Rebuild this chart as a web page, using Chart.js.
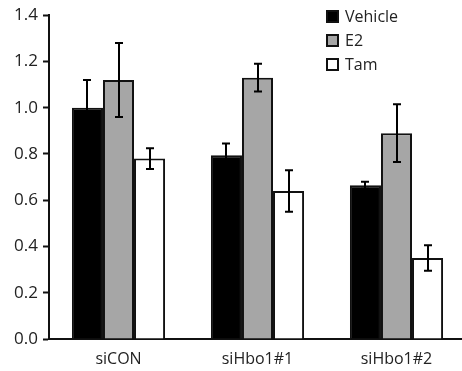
<!DOCTYPE html>
<html>
<head>
<meta charset="utf-8">
<script src="https://cdn.jsdelivr.net/npm/chart.js@4/dist/chart.umd.min.js"></script>
<style>
  html, body { margin: 0; padding: 0; background: #fff; overflow: hidden; }
  #wrap { position: relative; width: 470px; height: 371px; }
  #legend { position: absolute; left: 326px; top: 7px; font-family: "Open Sans", sans-serif; font-size: 16px; color: #222; }
  #legend div { height: 24px; line-height: 18px; white-space: nowrap; }
  #legend span.box { display: inline-block; width: 9px; height: 9px; border: 2px solid #111; vertical-align: -1px; margin-right: 6px; }
</style>
</head>
<body>
<div id="wrap">
  <canvas id="mycanvas" width="470" height="371"></canvas>
  <div id="legend"></div>
</div>
<script>
var categories = ["siCON", "siHbo1#1", "siHbo1#2"];
var seriesNames = ["Vehicle", "E2", "Tam"];
var vehicle = [1.00, 0.795, 0.665];
var e2 = [1.12, 1.13, 0.89];
var tam = [0.78, 0.64, 0.35];
var vehicleErr = [0.12, 0.05, 0.015];
var e2Err = [0.16, 0.06, 0.125];
var tamErr = [0.045, 0.09, 0.055];
var yTicks = [0, 0.2, 0.4, 0.6, 0.8, 1.0, 1.2, 1.4];

var colors = ["#000000", "#a6a6a6", "#ffffff"];
var errs = [vehicleErr, e2Err, tamErr];

var chartdata = {
	labels: categories,
	datasets: [
		{ label: seriesNames[0], data: vehicle, backgroundColor: colors[0], borderColor: '#111', borderWidth: 2 },
		{ label: seriesNames[1], data: e2, backgroundColor: colors[1], borderColor: '#111', borderWidth: 2 },
		{ label: seriesNames[2], data: tam, backgroundColor: colors[2], borderColor: '#111', borderWidth: 2 }
	]
};

// error bars drawn from the y scale
var errorBars = {
	id: 'errorBars',
	afterDatasetsDraw: function(chart) {
		var ctx = chart.ctx;
		var y = chart.scales.y;
		ctx.save();
		ctx.strokeStyle = '#000';
		ctx.lineWidth = 2;
		chart.data.datasets.forEach(function(ds, i) {
			var meta = chart.getDatasetMeta(i);
			meta.data.forEach(function(bar, j) {
				var v = ds.data[j], e = errs[i][j];
				var top = y.getPixelForValue(v + e);
				var bot = y.getPixelForValue(v - e);
				var x = Math.round(bar.x);
				ctx.beginPath();
				ctx.moveTo(x, top); ctx.lineTo(x, bot);
				ctx.moveTo(x - 4, top); ctx.lineTo(x + 4, top);
				ctx.moveTo(x - 4, bot); ctx.lineTo(x + 4, bot);
				ctx.stroke();
			});
		});
		ctx.restore();
	}
};

var ctx = document.getElementById("mycanvas");
var barGraph = new Chart(ctx, {
	type: 'bar',
	data: chartdata,
	plugins: [errorBars],
	options: {
		responsive: false,
		animation: false,
		layout: { padding: { top: 8, right: 4, left: 0, bottom: 0 } },
		plugins: { legend: { display: false }, tooltip: { enabled: false } },
		datasets: { bar: { categoryPercentage: 0.67, barPercentage: 1.0 } },
		scales: {
			x: {
				grid: { display: false, drawTicks: false },
				border: { color: '#111', width: 2 },
				ticks: { color: '#222', font: { family: 'Open Sans', size: 16 }, padding: 11 },
				afterFit: function(s) { s.height = 32; }
			},
			y: {
				min: 0, max: 1.4,
				afterBuildTicks: function(s) { s.ticks = yTicks.map(function(v) { return { value: v }; }); },
				grid: { drawOnChartArea: false, tickLength: 6, tickColor: '#111', tickWidth: 2 },
				border: { color: '#111', width: 2 },
				ticks: { color: '#222', font: { family: 'Open Sans', size: 17 }, padding: 5,
					callback: function(v) { return v.toFixed(1); } },
				afterFit: function(s) { s.width = 49; }
			}
		}
	}
});

var leg = document.getElementById('legend');
seriesNames.forEach(function(n, i) {
	var d = document.createElement('div');
	d.innerHTML = '<span class="box" style="background:' + colors[i] + '"></span>' + n;
	leg.appendChild(d);
});
</script>
</body>
</html>
